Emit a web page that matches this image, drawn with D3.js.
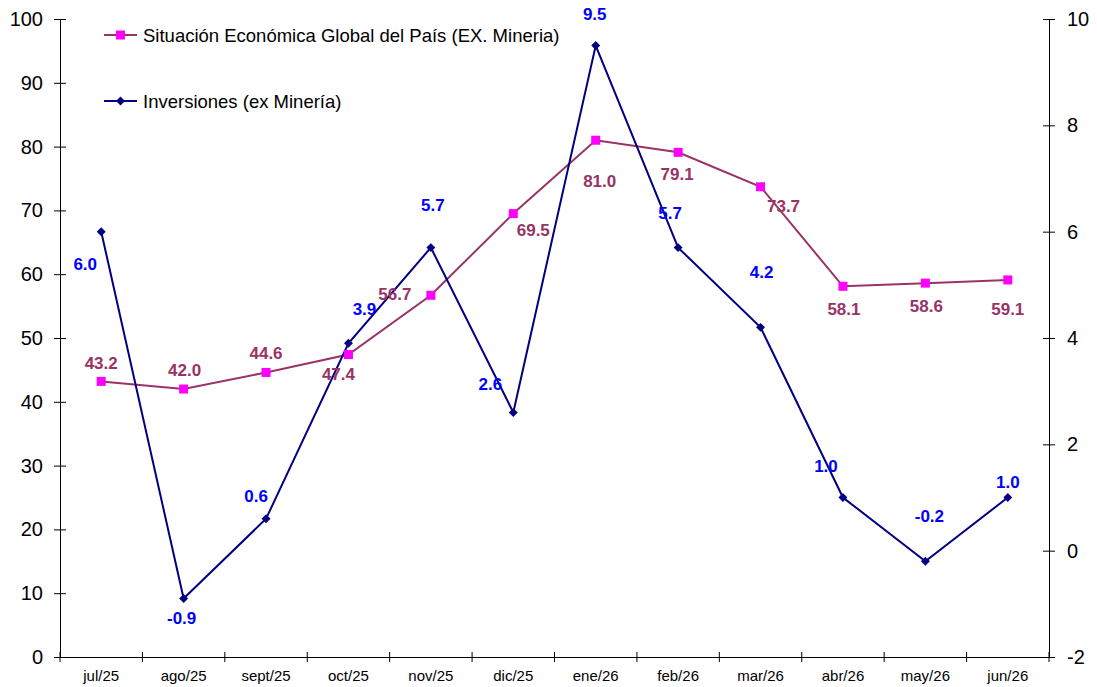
<!DOCTYPE html>
<html><head><meta charset="utf-8">
<script src="https://cdn.jsdelivr.net/npm/d3@7"></script>
<style>body{margin:0;background:#fff}svg{display:block}text{font-family:Arial,"Liberation Sans",sans-serif}</style>
</head><body>
<svg id="c" width="1097" height="687"></svg>
<script>
const categories = ["jul/25","ago/25","sept/25","oct/25","nov/25","dic/25","ene/26","feb/26","mar/26","abr/26","may/26","jun/26"];
const situacion = [43.2,42.0,44.6,47.4,56.7,69.5,81.0,79.1,73.7,58.1,58.6,59.1];
const inversiones = [6.0,-0.9,0.6,3.9,5.7,2.6,9.5,5.7,4.2,1.0,-0.2,1.0];
const leftTicks = [0,10,20,30,40,50,60,70,80,90,100];
const rightTicks = [-2,0,2,4,6,8,10];
const seriesNames = ["Situación Económica Global del País (EX. Mineria)","Inversiones (ex Minería)"];
// label offsets (style)
const sitOffsets = [[0,-12],[1,-13],[0,-13],[-10,25],[-36,5],[20,22],[4,47],[-1,28],[23,25],[1,29],[1,29],[0,35]];
const invOffsets = [[-16,38],[-2,25],[-10,-17],[16,-28],[2,-37],[-23,-22],[-1,-26],[-8,-29],[1,-49],[-17,-26],[4,-39],[0,-10]];

const svg = d3.select("#c");
const L=60, R=1049, T=19, B=657;
const x = d3.scaleBand().domain(categories).range([L,R]);
const yL = d3.scaleLinear().domain([0,100]).range([B,T]);
const yR = d3.scaleLinear().domain([-2,10]).range([B,T]);
const cx = d => x(d)+x.bandwidth()/2;
const fmt = d => String(d);

// left axis
const gl = svg.append("g").attr("transform",`translate(${L},0)`)
  .call(d3.axisLeft(yL).tickValues(leftTicks).tickFormat(fmt).tickSize(6).tickSizeOuter(0));
gl.selectAll(".tick line").attr("x2",6).attr("x1",-6);
gl.selectAll("text").attr("x",-17).attr("font-size",20).attr("fill","#000");
// right axis
const gr = svg.append("g").attr("transform",`translate(${R},0)`)
  .call(d3.axisRight(yR).tickValues(rightTicks).tickFormat(fmt).tickSize(6).tickSizeOuter(0));
gr.selectAll(".tick line").attr("x1",-6).attr("x2",6);
gr.selectAll("text").attr("x",18).attr("font-size",20).attr("fill","#000");
// bottom axis
const gb = svg.append("g").attr("transform",`translate(0,${B})`)
  .call(d3.axisBottom(x).tickSize(0).tickSizeOuter(0));
gb.selectAll("text").attr("y",13).attr("font-size",15).attr("fill","#000");
gb.selectAll(".tick line").remove();
const edges = categories.map(c=>x(c)).concat([R]);
gb.selectAll("line.tk").data(edges).enter().append("line")
  .attr("x1",d=>d).attr("x2",d=>d).attr("y1",-5).attr("y2",5).attr("stroke","#000");
svg.selectAll(".domain").attr("stroke","#000");

const pink="#993366", mag="#FF00FF", navy="#000080", blue="#0000FF";
svg.append("path").datum(situacion).attr("fill","none").attr("stroke",pink).attr("stroke-width",2)
  .attr("d",d3.line().x((d,i)=>cx(categories[i])).y(d=>yL(d)));
svg.append("path").datum(inversiones).attr("fill","none").attr("stroke",navy).attr("stroke-width",2)
  .attr("d",d3.line().x((d,i)=>cx(categories[i])).y(d=>yR(d)));
svg.selectAll("rect.sm").data(situacion).enter().append("rect")
  .attr("x",(d,i)=>cx(categories[i])-4.5).attr("y",d=>yL(d)-4.5).attr("width",9).attr("height",9).attr("fill",mag);
svg.selectAll("path.im").data(inversiones).enter().append("path")
  .attr("d",d3.symbol().type(d3.symbolSquare).size(40)())
  .attr("transform",(d,i)=>`translate(${cx(categories[i])},${yR(d)}) rotate(45)`)
  .attr("fill",navy);
svg.selectAll("text.sl").data(situacion).enter().append("text")
  .attr("x",(d,i)=>cx(categories[i])+sitOffsets[i][0]).attr("y",(d,i)=>yL(d)+sitOffsets[i][1])
  .attr("text-anchor","middle").attr("font-size",17).attr("font-weight","bold").attr("fill",pink)
  .text(d=>d.toFixed(1));
svg.selectAll("text.il").data(inversiones).enter().append("text")
  .attr("x",(d,i)=>cx(categories[i])+invOffsets[i][0]).attr("y",(d,i)=>yR(d)+invOffsets[i][1])
  .attr("text-anchor","middle").attr("font-size",17).attr("font-weight","bold").attr("fill",blue)
  .text(d=>d.toFixed(1));
const leg = [{n:seriesNames[0],c:pink,m:mag,y:35,t:"sq"},{n:seriesNames[1],c:navy,m:navy,y:101,t:"di"}];
leg.forEach(l=>{
  svg.append("line").attr("x1",104).attr("x2",137).attr("y1",l.y).attr("y2",l.y).attr("stroke",l.c).attr("stroke-width",2);
  if(l.t==="sq") svg.append("rect").attr("x",116).attr("y",l.y-4.5).attr("width",9).attr("height",9).attr("fill",l.m);
  else svg.append("path").attr("d",d3.symbol().type(d3.symbolSquare).size(40)()).attr("transform",`translate(120.5,${l.y}) rotate(45)`).attr("fill",l.m);
  svg.append("text").attr("x",143).attr("y",l.y+6.5).attr("font-size",18.5).attr("fill","#000").text(l.n);
});
</script>
</body></html>
